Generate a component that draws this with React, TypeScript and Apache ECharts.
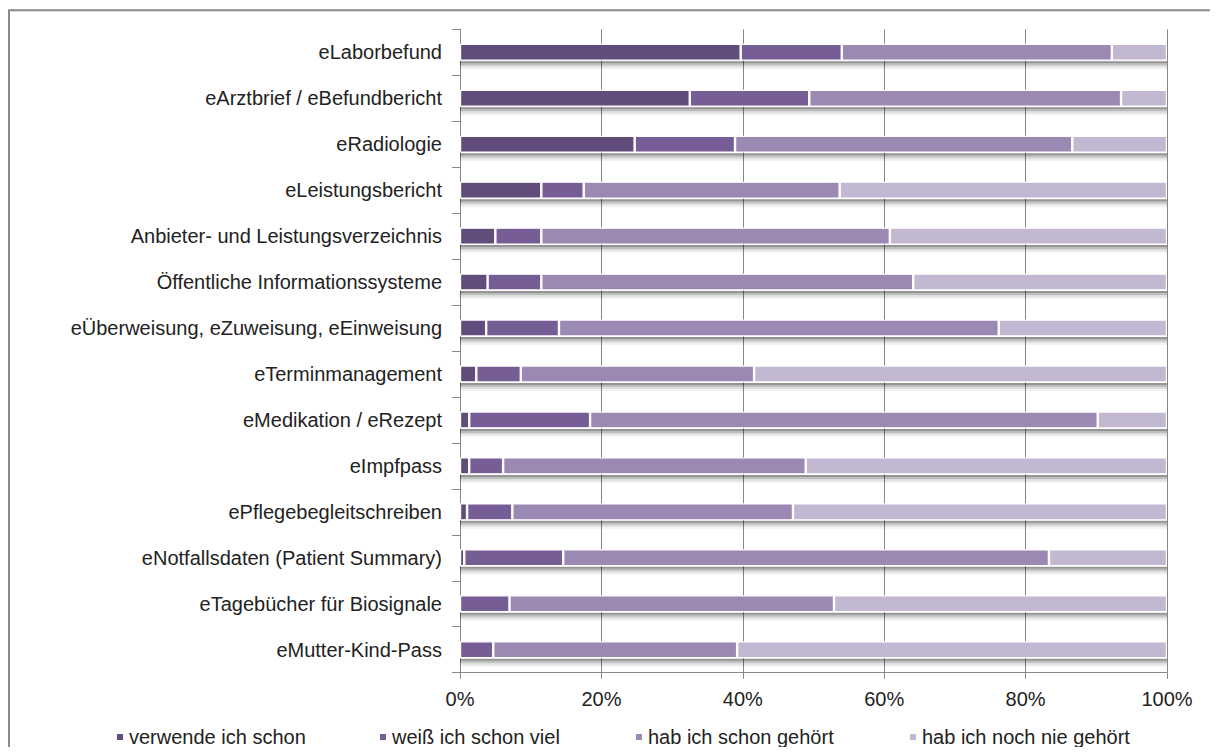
import React, { useEffect, useRef } from "react";
import * as echarts from "echarts";

const categories = [
  "eLaborbefund",
  "eArztbrief / eBefundbericht",
  "eRadiologie",
  "eLeistungsbericht",
  "Anbieter- und Leistungsverzeichnis",
  "Öffentliche Informationssysteme",
  "eÜberweisung, eZuweisung, eEinweisung",
  "eTerminmanagement",
  "eMedikation / eRezept",
  "eImpfpass",
  "ePflegebegleitschreiben",
  "eNotfallsdaten (Patient Summary)",
  "eTagebücher für Biosignale",
  "eMutter-Kind-Pass",
];

const seriesNames = [
  "verwende ich schon",
  "weiß ich schon viel",
  "hab ich schon gehört",
  "hab ich noch nie gehört",
];

const verwende = [39.7, 32.5, 24.7, 11.5, 5.0, 3.9, 3.7, 2.3, 1.3, 1.3, 1.0, 0.6, 0, 0];
const weiss = [14.3, 16.9, 14.2, 6.0, 6.5, 7.6, 10.3, 6.3, 17.1, 4.8, 6.4, 14.0, 7.0, 4.7];
const gehoert = [38.2, 44.1, 47.7, 36.2, 49.3, 52.6, 62.2, 33.0, 71.8, 42.8, 39.7, 68.7, 45.9, 34.5];
const nie = [7.8, 6.5, 13.4, 46.3, 39.2, 35.9, 23.8, 58.4, 9.8, 51.1, 52.9, 16.7, 47.1, 60.8];

const xTicks = [0, 20, 40, 60, 80, 100];

const colors = ["#614c7b", "#775d96", "#9b89b4", "#c2b8d1"];

export default function App() {
  const ref = useRef<HTMLDivElement>(null);
  useEffect(() => {
    if (!ref.current) return;
    const chart = echarts.init(ref.current, null, { renderer: "svg" });
    const font = "Liberation Sans, Arial, sans-serif";
    const values = [verwende, weiss, gehoert, nie];
    const totals = categories.map((_, i) =>
      Math.round(values.reduce((s, arr) => s + arr[i], 0) * 10) / 10
    );
    const legendLefts = [107, 370, 626, 900];
    const barW = 17;
    const frame = {
      type: "polyline",
      shape: { points: [[1, 760], [1, 2.3], [1300, 2.3]] },
      style: { stroke: "#8a8a8a", lineWidth: 2, fill: null },
      silent: true,
    };
    const option: any = {
      animation: false,
      textStyle: { fontFamily: font },
      color: colors,
      grid: { left: 452, right: 43, top: 21.3, bottom: 74.3, containLabel: false },
      legend: seriesNames.map((n, i) => ({
        data: [n],
        left: legendLefts[i],
        top: 719,
        padding: 0,
        icon: "rect",
        itemWidth: 8,
        itemHeight: 8,
        itemGap: 0,
        selectedMode: false,
        textStyle: { fontFamily: font, fontSize: 20, color: "#222" },
      })),
      xAxis: {
        type: "value",
        min: 0,
        max: 100,
        interval: 20,
        axisLine: { show: true, lineStyle: { color: "#868686", width: 1 } },
        axisTick: { show: true, length: 6, lineStyle: { color: "#868686" } },
        splitLine: { show: true, lineStyle: { color: "#868686", width: 1 } },
        axisLabel: {
          margin: 16,
          fontFamily: font,
          fontSize: 20,
          color: "#222",
          formatter: (v: number) => (xTicks.includes(v) ? v + "%" : ""),
        },
      },
      yAxis: {
        type: "category",
        data: categories,
        inverse: true,
        axisLine: { show: true, lineStyle: { color: "#868686", width: 1 } },
        axisTick: { show: true, length: 8, lineStyle: { color: "#868686" } },
        axisLabel: { margin: 18, fontFamily: font, fontSize: 20, color: "#222" },
        splitLine: { show: false },
      },
      series: seriesNames.map((n, i) => ({
        name: n,
        type: "bar",
        stack: "total",
        barWidth: barW,
        z: 3,
        data: values[i],
        itemStyle: {
          color: colors[i],
          borderColor: "#ffffff",
          borderWidth: 1.2,
        },
      })),
      graphic: [frame],
    };
    chart.setOption(option);

    // bar shadows ("shelf" effect), positioned through the chart's own scales
    const shadowEls: any[] = [];
    categories.forEach((c, i) => {
      const p0 = chart.convertToPixel({ gridIndex: 0 }, [0, i]) as number[];
      const p1 = chart.convertToPixel({ gridIndex: 0 }, [totals[i], i]) as number[];
      if (!p0 || !p1) return;
      const y0 = p0[1] + barW / 2 + 0.5;
      const w = p1[0] - p0[0];
      const bands = [
        [0, 2, "rgba(0,0,0,0.42)"],
        [2, 2, "rgba(0,0,0,0.26)"],
        [4, 2, "rgba(0,0,0,0.13)"],
        [6, 2, "rgba(0,0,0,0.05)"],
      ];
      bands.forEach(([dy, h, col]) => {
        shadowEls.push({
          type: "rect",
          z: 1,
          silent: true,
          shape: { x: p0[0], y: y0 + (dy as number), width: w, height: h },
          style: { fill: col },
        });
      });
    });
    chart.setOption({ graphic: [frame, ...shadowEls] });
    return () => chart.dispose();
  }, []);
  return <div ref={ref} style={{ width: 1202, height: 739 }} />;
}
